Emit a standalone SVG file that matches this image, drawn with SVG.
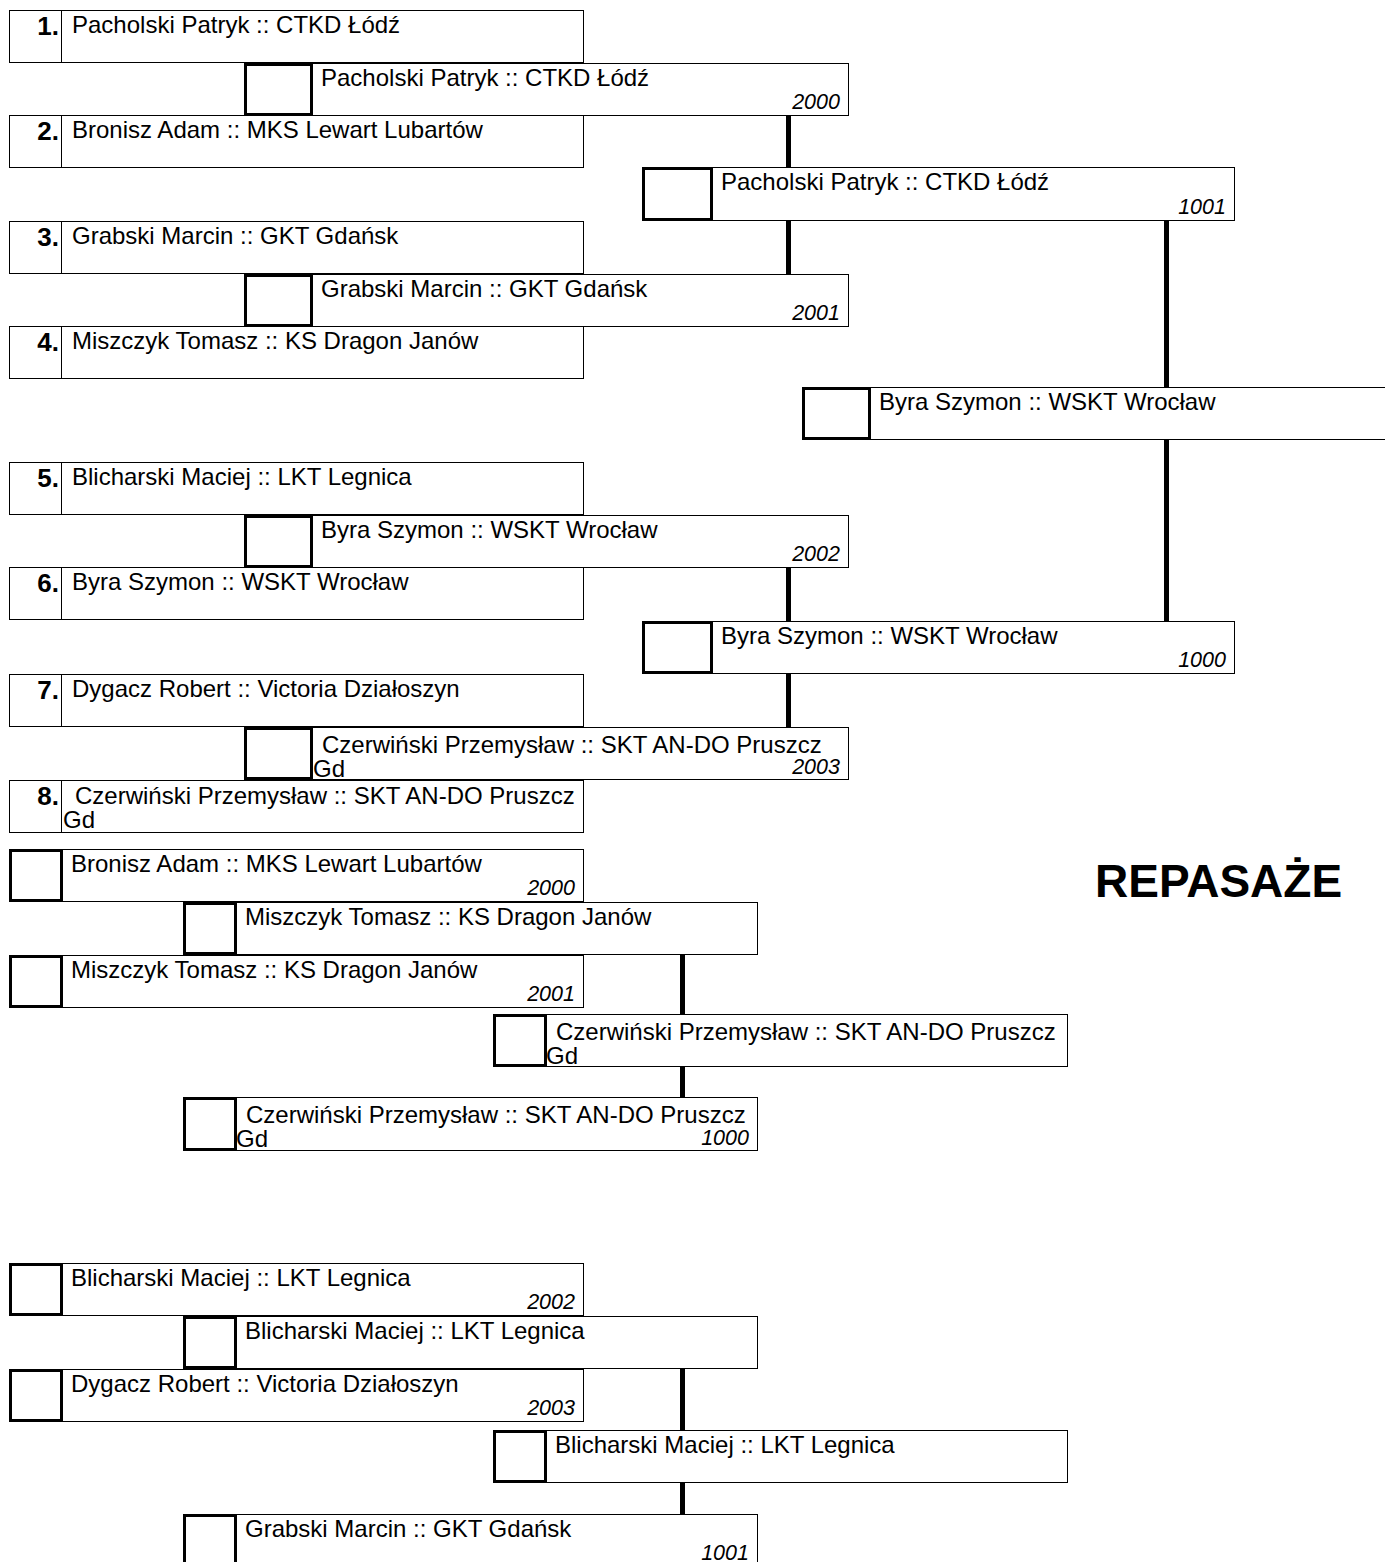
<svg xmlns="http://www.w3.org/2000/svg" width="1385" height="1562" viewBox="0 0 1385 1562">
<style>
.box{fill:#fff;stroke:#000;stroke-width:1}
.sq{fill:none;stroke:#000;stroke-width:3}
.cn{stroke:#000;stroke-width:5;fill:none}
.nm{font-family:"Liberation Sans",Arial,sans-serif;font-size:24px;fill:#000}
.yr{font-family:"Liberation Sans",Arial,sans-serif;font-size:21.5px;font-style:italic;text-anchor:end;fill:#000}
.sd{font-family:"Liberation Sans",Arial,sans-serif;font-size:26px;font-weight:bold;text-anchor:end;fill:#000}
.ttl{font-family:"Liberation Sans",Arial,sans-serif;font-size:46px;font-weight:bold;fill:#000}
</style>
<rect width="1385" height="1562" fill="#fff"/>

<g id="connectors">
<line class="cn" x1="788.5" y1="115" x2="788.5" y2="167"/>
<line class="cn" x1="788.5" y1="221" x2="788.5" y2="274"/>
<line class="cn" x1="788.5" y1="567" x2="788.5" y2="621"/>
<line class="cn" x1="788.5" y1="674" x2="788.5" y2="727"/>
<line class="cn" x1="1166.5" y1="221" x2="1166.5" y2="387"/>
<line class="cn" x1="1166.5" y1="440" x2="1166.5" y2="621"/>
<line class="cn" x1="682.5" y1="955" x2="682.5" y2="1014"/>
<line class="cn" x1="682.5" y1="1067" x2="682.5" y2="1098"/>
<line class="cn" x1="682.5" y1="1369" x2="682.5" y2="1430"/>
<line class="cn" x1="682.5" y1="1483" x2="682.5" y2="1514"/>
</g>

<!-- seed boxes -->
<g id="seed1"><rect class="box" x="9.5" y="10.5" width="574" height="52"/><line class="box" x1="61.5" y1="10" x2="61.5" y2="63"/><text class="sd" x="59" y="35">1.</text><text class="nm" x="72" y="33">Pacholski Patryk :: CTKD Łódź</text></g>
<g id="seed2"><rect class="box" x="9.5" y="115.5" width="574" height="52"/><line class="box" x1="61.5" y1="115" x2="61.5" y2="168"/><text class="sd" x="59" y="140">2.</text><text class="nm" x="72" y="138">Bronisz Adam :: MKS Lewart Lubartów</text></g>
<g id="seed3"><rect class="box" x="9.5" y="221.5" width="574" height="52"/><line class="box" x1="61.5" y1="221" x2="61.5" y2="274"/><text class="sd" x="59" y="246">3.</text><text class="nm" x="72" y="244">Grabski Marcin :: GKT Gdańsk</text></g>
<g id="seed4"><rect class="box" x="9.5" y="326.5" width="574" height="52"/><line class="box" x1="61.5" y1="326" x2="61.5" y2="379"/><text class="sd" x="59" y="351">4.</text><text class="nm" x="72" y="349">Miszczyk Tomasz :: KS Dragon Janów</text></g>
<g id="seed5"><rect class="box" x="9.5" y="462.5" width="574" height="52"/><line class="box" x1="61.5" y1="462" x2="61.5" y2="515"/><text class="sd" x="59" y="487">5.</text><text class="nm" x="72" y="485">Blicharski Maciej :: LKT Legnica</text></g>
<g id="seed6"><rect class="box" x="9.5" y="567.5" width="574" height="52"/><line class="box" x1="61.5" y1="567" x2="61.5" y2="620"/><text class="sd" x="59" y="592">6.</text><text class="nm" x="72" y="590">Byra Szymon :: WSKT Wrocław</text></g>
<g id="seed7"><rect class="box" x="9.5" y="674.5" width="574" height="52"/><line class="box" x1="61.5" y1="674" x2="61.5" y2="727"/><text class="sd" x="59" y="699">7.</text><text class="nm" x="72" y="697">Dygacz Robert :: Victoria Działoszyn</text></g>
<g id="seed8"><rect class="box" x="9.5" y="780.5" width="574" height="52"/><line class="box" x1="61.5" y1="780" x2="61.5" y2="833"/><text class="sd" x="59" y="805">8.</text><text class="nm" x="75" y="804">Czerwiński Przemysław :: SKT AN-DO Pruszcz</text><text class="nm" x="63" y="828">Gd</text></g>

<!-- round 2 -->
<g id="r2a"><rect class="box" x="244.5" y="63.5" width="604" height="52"/><rect class="sq" x="245.5" y="64.5" width="66" height="50"/><text class="nm" x="321" y="86">Pacholski Patryk :: CTKD Łódź</text><text class="yr" x="840" y="109">2000</text></g>
<g id="r2b"><rect class="box" x="244.5" y="274.5" width="604" height="52"/><rect class="sq" x="245.5" y="275.5" width="66" height="50"/><text class="nm" x="321" y="297">Grabski Marcin :: GKT Gdańsk</text><text class="yr" x="840" y="320">2001</text></g>
<g id="r2c"><rect class="box" x="244.5" y="515.5" width="604" height="52"/><rect class="sq" x="245.5" y="516.5" width="66" height="50"/><text class="nm" x="321" y="538">Byra Szymon :: WSKT Wrocław</text><text class="yr" x="840" y="561">2002</text></g>
<g id="r2d"><rect class="box" x="244.5" y="727.5" width="604" height="52"/><rect class="sq" x="245.5" y="728.5" width="66" height="50"/><text class="nm" x="322" y="753">Czerwiński Przemysław :: SKT AN-DO Pruszcz</text><text class="nm" x="313" y="777">Gd</text><text class="yr" x="840" y="774">2003</text></g>

<!-- round 3 -->
<g id="r3a"><rect class="box" x="642.5" y="167.5" width="592" height="53"/><rect class="sq" x="643.5" y="168.5" width="68" height="51"/><text class="nm" x="721" y="190">Pacholski Patryk :: CTKD Łódź</text><text class="yr" x="1226" y="214">1001</text></g>
<g id="r3b"><rect class="box" x="642.5" y="621.5" width="592" height="52"/><rect class="sq" x="643.5" y="622.5" width="68" height="50"/><text class="nm" x="721" y="644">Byra Szymon :: WSKT Wrocław</text><text class="yr" x="1226" y="667">1000</text></g>

<!-- final -->
<g id="final"><rect class="box" x="802.5" y="387.5" width="600" height="52"/><rect class="sq" x="803.5" y="388.5" width="66" height="50"/><text class="nm" x="879" y="410">Byra Szymon :: WSKT Wrocław</text></g>

<g id="title"><text class="ttl" x="1095" y="897">REPASAŻE</text></g>

<!-- repechage 1 -->
<g id="repA"><rect class="box" x="9.5" y="849.5" width="574" height="52"/><rect class="sq" x="10.5" y="850.5" width="51" height="50"/><text class="nm" x="71" y="872">Bronisz Adam :: MKS Lewart Lubartów</text><text class="yr" x="575" y="895">2000</text></g>
<g id="repB"><rect class="box" x="183.5" y="902.5" width="574" height="52"/><rect class="sq" x="184.5" y="903.5" width="51" height="50"/><text class="nm" x="245" y="925">Miszczyk Tomasz :: KS Dragon Janów</text></g>
<g id="repC"><rect class="box" x="9.5" y="955.5" width="574" height="52"/><rect class="sq" x="10.5" y="956.5" width="51" height="50"/><text class="nm" x="71" y="978">Miszczyk Tomasz :: KS Dragon Janów</text><text class="yr" x="575" y="1001">2001</text></g>
<g id="repD"><rect class="box" x="493.5" y="1014.5" width="574" height="52"/><rect class="sq" x="494.5" y="1015.5" width="51" height="50"/><text class="nm" x="556" y="1040">Czerwiński Przemysław :: SKT AN-DO Pruszcz</text><text class="nm" x="546" y="1064">Gd</text></g>
<g id="repE"><rect class="box" x="183.5" y="1097.5" width="574" height="53"/><rect class="sq" x="184.5" y="1098.5" width="51" height="51"/><text class="nm" x="246" y="1123">Czerwiński Przemysław :: SKT AN-DO Pruszcz</text><text class="nm" x="236" y="1147">Gd</text><text class="yr" x="749" y="1145">1000</text></g>

<!-- repechage 2 -->
<g id="repF"><rect class="box" x="9.5" y="1263.5" width="574" height="52"/><rect class="sq" x="10.5" y="1264.5" width="51" height="50"/><text class="nm" x="71" y="1286">Blicharski Maciej :: LKT Legnica</text><text class="yr" x="575" y="1309">2002</text></g>
<g id="repG"><rect class="box" x="183.5" y="1316.5" width="574" height="52"/><rect class="sq" x="184.5" y="1317.5" width="51" height="50"/><text class="nm" x="245" y="1339">Blicharski Maciej :: LKT Legnica</text></g>
<g id="repH"><rect class="box" x="9.5" y="1369.5" width="574" height="52"/><rect class="sq" x="10.5" y="1370.5" width="51" height="50"/><text class="nm" x="71" y="1392">Dygacz Robert :: Victoria Działoszyn</text><text class="yr" x="575" y="1415">2003</text></g>
<g id="repI"><rect class="box" x="493.5" y="1430.5" width="574" height="52"/><rect class="sq" x="494.5" y="1431.5" width="51" height="50"/><text class="nm" x="555" y="1453">Blicharski Maciej :: LKT Legnica</text></g>
<g id="repJ"><rect class="box" x="183.5" y="1514.5" width="574" height="52"/><rect class="sq" x="184.5" y="1515.5" width="51" height="50"/><text class="nm" x="245" y="1537">Grabski Marcin :: GKT Gdańsk</text><text class="yr" x="749" y="1560">1001</text></g>
</svg>
